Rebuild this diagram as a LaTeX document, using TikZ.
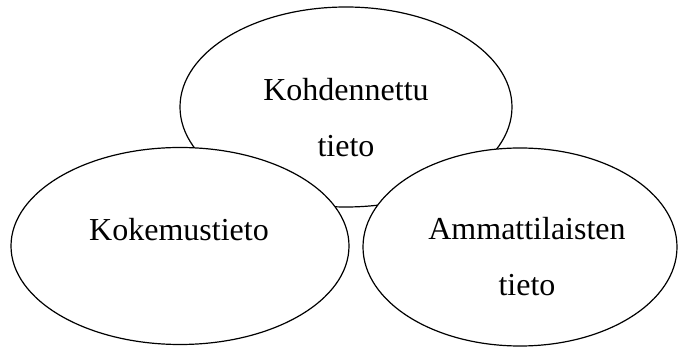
\documentclass[tikz,border=0pt]{standalone}
\usepackage{fontspec}
\setmainfont{Liberation Serif}
\usetikzlibrary{shapes.geometric}

\tikzset{
	blob/.style={ellipse, draw, fill=white, line width=1.2pt, inner sep=0pt},
	word/.style={font=\fontsize{32}{56}\selectfont, align=center, inner sep=0pt}
}

\begin{document}
\begin{tikzpicture}[x=1pt, y=-1pt]

		\useasboundingbox (0,0) rectangle (681,347);

		% kolme soikiota, ylin alimmaisena
		\node[blob, minimum width=332pt, minimum height=200pt] (kohd) at (346,107) {};
		\node[blob, minimum width=338pt, minimum height=197pt] (koke) at (180,246) {};
		\node[blob, minimum width=314pt, minimum height=198pt] (amma) at (520,247) {};

		\node[word] (kohdt) at (346,118) {Kohdennettu\\tieto};
		\node[word] (koket) at (179,230) {Kokemustieto};
		\node[word] (ammat) at (527,257) {Ammattilaisten\\tieto};

	\end{tikzpicture}
\end{document}
